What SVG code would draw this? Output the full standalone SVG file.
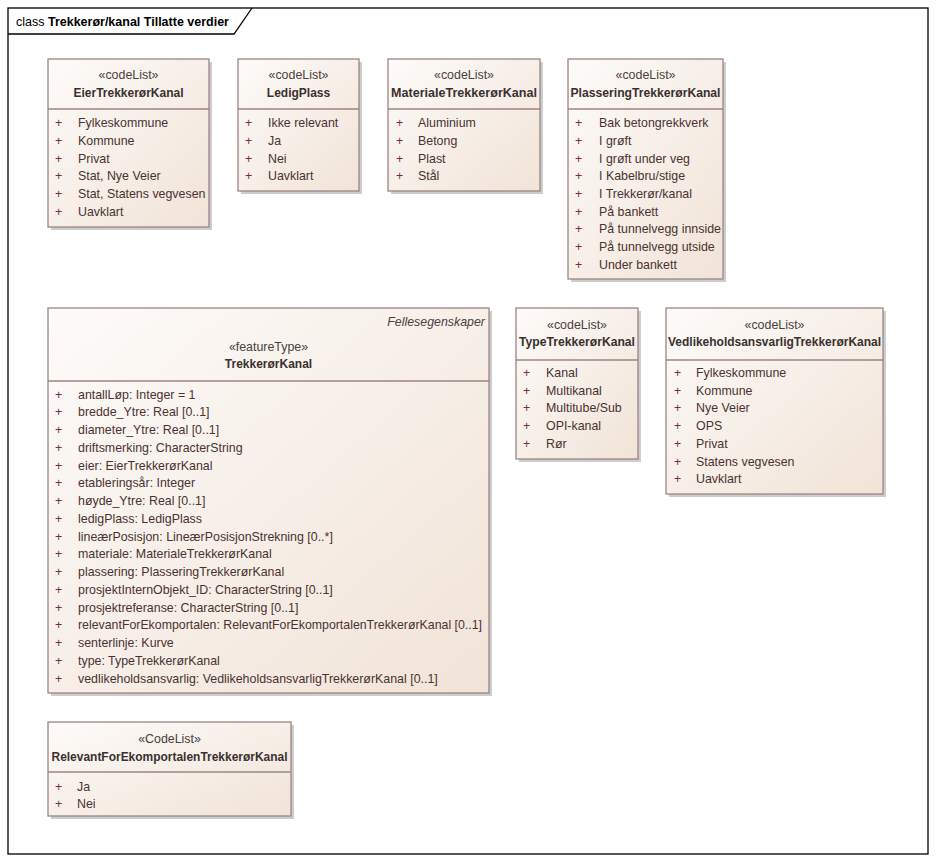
<svg xmlns="http://www.w3.org/2000/svg" width="936" height="862" viewBox="0 0 936 862">
<defs>
<linearGradient id="fillg" x1="0" y1="0" x2="1" y2="1">
<stop offset="0" stop-color="#fdfbf9"/>
<stop offset="1" stop-color="#f1e3d7"/>
</linearGradient>
</defs>
<style>
.box{fill:url(#fillg);stroke:#9c8484;stroke-width:1.3}
.sh{fill:#cdcdcd}
.sep{stroke:#9c8484;stroke-width:1.3}
.st{font-family:"Liberation Sans",Arial,sans-serif;font-size:12.4px;fill:#4a4040;text-anchor:middle}
.nm{font-family:"Liberation Sans",Arial,sans-serif;font-size:12px;font-weight:bold;fill:#3a3030;text-anchor:middle}
.it{font-family:"Liberation Sans",Arial,sans-serif;font-size:12.4px;fill:#4a3232}
.pl{font-family:"Liberation Sans",Arial,sans-serif;font-size:12.4px;fill:#7a2a48}
.tag{font-family:"Liberation Sans",Arial,sans-serif;font-size:12.4px;font-style:italic;fill:#4a4040;text-anchor:end}
.frm{font-family:"Liberation Sans",Arial,sans-serif;font-size:13px;fill:#000}
</style>
<rect x="0" y="0" width="936" height="862" fill="#ffffff"/>
<g id="frame">
<rect x="8" y="8" width="920" height="846" fill="none" stroke="#000" stroke-width="1.3"/>
<path d="M8 34 H234 L252 8" fill="none" stroke="#000" stroke-width="1.3"/>
<text class="frm" x="16" y="26" textLength="213" lengthAdjust="spacingAndGlyphs">class <tspan font-weight="bold">Trekkerør/kanal Tillatte verdier</tspan></text>
</g>
<g id="connectors"></g>

<g id="EierTrekkerorKanal">
<rect class="sh" x="51" y="62" width="161" height="168"/>
<rect class="box" x="48" y="59" width="161" height="168"/>
<line class="sep" x1="48" y1="109" x2="209" y2="109"/>
<text class="st" x="128.5" y="79">«codeList»</text>
<text class="nm" x="128.5" y="97">EierTrekkerørKanal</text>
<g class="pl"><text x="55" y="127">+</text><text x="55" y="145">+</text><text x="55" y="162.5">+</text><text x="55" y="180">+</text><text x="55" y="198">+</text><text x="55" y="215.5">+</text></g>
<g class="it"><text x="78" y="127">Fylkeskommune</text><text x="78" y="145">Kommune</text><text x="78" y="162.5">Privat</text><text x="78" y="180">Stat, Nye Veier</text><text x="78" y="198">Stat, Statens vegvesen</text><text x="78" y="215.5">Uavklart</text></g>
</g>

<g id="LedigPlass">
<rect class="sh" x="241" y="62" width="121" height="132"/>
<rect class="box" x="238" y="59" width="121" height="132"/>
<line class="sep" x1="238" y1="109" x2="359" y2="109"/>
<text class="st" x="298.5" y="79">«codeList»</text>
<text class="nm" x="298.5" y="97">LedigPlass</text>
<g class="pl"><text x="245" y="127">+</text><text x="245" y="145">+</text><text x="245" y="162.5">+</text><text x="245" y="180">+</text></g>
<g class="it"><text x="268" y="127">Ikke relevant</text><text x="268" y="145">Ja</text><text x="268" y="162.5">Nei</text><text x="268" y="180">Uavklart</text></g>
</g>

<g id="MaterialeTrekkerorKanal">
<rect class="sh" x="391" y="62" width="152" height="132"/>
<rect class="box" x="388" y="59" width="152" height="132"/>
<line class="sep" x1="388" y1="109" x2="540" y2="109"/>
<text class="st" x="464" y="79">«codeList»</text>
<text class="nm" x="464" y="97" textLength="146" lengthAdjust="spacingAndGlyphs">MaterialeTrekkerørKanal</text>
<g class="pl"><text x="396" y="127">+</text><text x="396" y="145">+</text><text x="396" y="162.5">+</text><text x="396" y="180">+</text></g>
<g class="it"><text x="418" y="127">Aluminium</text><text x="418" y="145">Betong</text><text x="418" y="162.5">Plast</text><text x="418" y="180">Stål</text></g>
</g>

<g id="PlasseringTrekkerorKanal">
<rect class="sh" x="571" y="62" width="155" height="220"/>
<rect class="box" x="568" y="59" width="155" height="220"/>
<line class="sep" x1="568" y1="109" x2="723" y2="109"/>
<text class="st" x="645.5" y="79">«codeList»</text>
<text class="nm" x="645.5" y="97" textLength="150" lengthAdjust="spacingAndGlyphs">PlasseringTrekkerørKanal</text>
<g class="pl"><text x="575" y="127">+</text><text x="575" y="145">+</text><text x="575" y="162.5">+</text><text x="575" y="180">+</text><text x="575" y="198">+</text><text x="575" y="215.5">+</text><text x="575" y="233">+</text><text x="575" y="251">+</text><text x="575" y="269">+</text></g>
<g class="it"><text x="599" y="127">Bak betongrekkverk</text><text x="599" y="145">I grøft</text><text x="599" y="162.5">I grøft under veg</text><text x="599" y="180">I Kabelbru/stige</text><text x="599" y="198">I Trekkerør/kanal</text><text x="599" y="215.5">På bankett</text><text x="599" y="233">På tunnelvegg innside</text><text x="599" y="251">På tunnelvegg utside</text><text x="599" y="269">Under bankett</text></g>
</g>

<g id="TrekkerorKanal">
<rect class="sh" x="51" y="311" width="441" height="385"/>
<rect class="box" x="48" y="308" width="441" height="385"/>
<line class="sep" x1="48" y1="381" x2="489" y2="381"/>
<text class="tag" x="485" y="326">Fellesegenskaper</text>
<text class="st" x="268.5" y="351">«featureType»</text>
<text class="nm" x="268.5" y="368">TrekkerørKanal</text>
<g class="pl"><text x="55" y="398.5">+</text><text x="55" y="416.2">+</text><text x="55" y="434">+</text><text x="55" y="451.7">+</text><text x="55" y="469.5">+</text><text x="55" y="487.2">+</text><text x="55" y="505">+</text><text x="55" y="522.7">+</text><text x="55" y="540.5">+</text><text x="55" y="558.2">+</text><text x="55" y="576">+</text><text x="55" y="593.7">+</text><text x="55" y="611.5">+</text><text x="55" y="629.2">+</text><text x="55" y="647">+</text><text x="55" y="664.7">+</text><text x="55" y="682.5">+</text></g>
<g class="it">
<text x="78" y="398.5">antallLøp: Integer = 1</text>
<text x="78" y="416.2">bredde_Ytre: Real [0..1]</text>
<text x="78" y="434">diameter_Ytre: Real [0..1]</text>
<text x="78" y="451.7">driftsmerking: CharacterString</text>
<text x="78" y="469.5">eier: EierTrekkerørKanal</text>
<text x="78" y="487.2">etableringsår: Integer</text>
<text x="78" y="505">høyde_Ytre: Real [0..1]</text>
<text x="78" y="522.7">ledigPlass: LedigPlass</text>
<text x="78" y="540.5">lineærPosisjon: LineærPosisjonStrekning [0..*]</text>
<text x="78" y="558.2">materiale: MaterialeTrekkerørKanal</text>
<text x="78" y="576">plassering: PlasseringTrekkerørKanal</text>
<text x="78" y="593.7">prosjektInternObjekt_ID: CharacterString [0..1]</text>
<text x="78" y="611.5">prosjektreferanse: CharacterString [0..1]</text>
<text x="78" y="629.2" textLength="404" lengthAdjust="spacingAndGlyphs">relevantForEkomportalen: RelevantForEkomportalenTrekkerørKanal [0..1]</text>
<text x="78" y="647">senterlinje: Kurve</text>
<text x="78" y="664.7">type: TypeTrekkerørKanal</text>
<text x="78" y="682.5">vedlikeholdsansvarlig: VedlikeholdsansvarligTrekkerørKanal [0..1]</text>
</g>
</g>

<g id="TypeTrekkerorKanal">
<rect class="sh" x="519" y="311" width="122" height="151"/>
<rect class="box" x="516" y="308" width="122" height="151"/>
<line class="sep" x1="516" y1="360" x2="638" y2="360"/>
<text class="st" x="577" y="329">«codeList»</text>
<text class="nm" x="577" y="346" textLength="116" lengthAdjust="spacingAndGlyphs">TypeTrekkerørKanal</text>
<g class="pl"><text x="523" y="376.5">+</text><text x="523" y="394.5">+</text><text x="523" y="412">+</text><text x="523" y="430">+</text><text x="523" y="447.5">+</text></g>
<g class="it"><text x="546" y="376.5">Kanal</text><text x="546" y="394.5">Multikanal</text><text x="546" y="412">Multitube/Sub</text><text x="546" y="430">OPI-kanal</text><text x="546" y="447.5">Rør</text></g>
</g>

<g id="VedlikeholdsansvarligTrekkerorKanal">
<rect class="sh" x="669" y="311" width="217" height="186"/>
<rect class="box" x="666" y="308" width="217" height="186"/>
<line class="sep" x1="666" y1="360" x2="883" y2="360"/>
<text class="st" x="774.5" y="329">«codeList»</text>
<text class="nm" x="774.5" y="346" textLength="213" lengthAdjust="spacingAndGlyphs">VedlikeholdsansvarligTrekkerørKanal</text>
<g class="pl"><text x="674" y="376.5">+</text><text x="674" y="394.5">+</text><text x="674" y="412">+</text><text x="674" y="430">+</text><text x="674" y="447.5">+</text><text x="674" y="465.5">+</text><text x="674" y="483">+</text></g>
<g class="it"><text x="696" y="376.5">Fylkeskommune</text><text x="696" y="394.5">Kommune</text><text x="696" y="412">Nye Veier</text><text x="696" y="430">OPS</text><text x="696" y="447.5">Privat</text><text x="696" y="465.5">Statens vegvesen</text><text x="696" y="483">Uavklart</text></g>
</g>

<g id="RelevantForEkomportalenTrekkerorKanal">
<rect class="sh" x="51" y="725" width="243" height="94"/>
<rect class="box" x="48" y="722" width="243" height="94"/>
<line class="sep" x1="48" y1="772" x2="291" y2="772"/>
<text class="st" x="169.5" y="743">«CodeList»</text>
<text class="nm" x="169.5" y="761" textLength="236" lengthAdjust="spacingAndGlyphs">RelevantForEkomportalenTrekkerørKanal</text>
<g class="pl"><text x="55" y="790.5">+</text><text x="55" y="808">+</text></g>
<g class="it"><text x="77" y="790.5">Ja</text><text x="77" y="808">Nei</text></g>
</g>
</svg>
